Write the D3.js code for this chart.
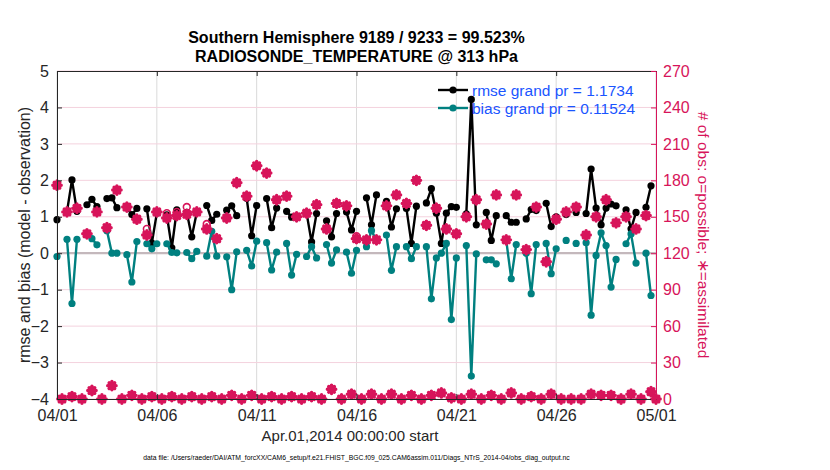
<!DOCTYPE html>
<meta charset="utf-8">
<script src="https://cdn.jsdelivr.net/npm/d3@7"></script>
<style>
body { margin: 0; background: #fff; }
svg { display: block; font-family: "Liberation Sans", Arial, Helvetica, sans-serif; }
</style>
<body>
<div class="chart"></div>
<script>

// 6-hourly bins starting Apr.01,2014 00Z (null = no observations in bin)
var rmse = [0.92, null, 1.14, 2.01, 1.15, null, 1.33, 1.48, 1.28, null,
  1.50, 1.52, 1.25, null, 1.25, 1.06, 1.23, null, 1.22, 0.28,
  1.10, null, 1.05, 0.15, 1.19, null, 1.12, 0.45, 1.12, null,
  1.31, 0.90, 1.07, null, 1.18, 1.30, 1.03, null, 1.51, 0.48,
  1.31, null, 1.50, 0.70, 1.24, null, 1.15, 0.99, 1.00, null,
  1.10, 0.31, 1.09, null, 0.89, 0.45, 1.09, null, 1.13, 0.64,
  1.15, null, 1.52, 0.78, 1.60, null, 1.42, 0.72, 1.22, null,
  1.23, 0.27, 1.29, null, 1.38, 1.77, 1.10, 0.27, 1.10, 1.28,
  1.26, null, 1.08, 4.22, 0.78, null, 1.12, 0.35, 1.03, null,
  1.03, 0.85, 0.85, null, 0.94, 1.20, 1.17, null, 1.37, 0.73,
  1.00, null, 1.06, null, 1.12, null, 1.09, 2.31, 1.24, 0.78,
  1.24, 1.35, 1.30, null, 1.19, 0.67, 1.12, null, 1.26, 1.85,
  null];

var bias = [-0.09, null, 0.38, -1.38, 0.38, null, 0.50, 0.40, 0.23, null,
  0.62, 0.00, 0.00, null, -0.04, -0.79, 0.32, null, 0.26, 0.12,
  0.26, null, 0.26, 0.02, 0.01, null, 0.02, -0.15, 0.05, null,
  -0.08, 0.60, -0.08, null, -0.10, -1.00, 0.04, null, 0.08, -0.35,
  0.33, null, 0.29, -0.46, 0.03, null, 0.27, -0.60, -0.03, null,
  -0.09, 0.18, -0.13, null, 0.24, -0.27, 0.09, null, 0.03, -0.55,
  0.08, null, 0.18, 0.62, 0.35, null, 0.50, -0.47, 0.18, null,
  0.18, -0.15, 0.18, null, 0.18, -1.25, -0.13, 0.00, 0.27, -1.82,
  -0.13, null, 0.21, -3.37, -0.02, null, -0.18, -0.18, -0.29, null,
  0.35, -0.70, 0.24, null, 0.00, -1.11, 0.24, null, 0.27, -0.56,
  0.12, null, 0.35, null, 0.27, null, 0.29, -1.70, -0.06, 0.56,
  0.21, -0.93, -0.17, null, 0.26, 0.53, -0.27, null, 0.00, -1.16,
  null];

var nAssim = [176, 0, 154, 2, 157, 0, 136, 7, 154, 0,
  141, 11, 172, 0, 158, 3, 148, 0, 135, 2,
  154, 0, 149, 2, 151, 0, 152, 2, 154, 0,
  140, 2, 132, 0, 149, 3, 178, 0, 167, 3,
  192, 0, 186, 2, 164, 0, 167, 2, 150, 0,
  153, 2, 160, 0, 140, 8, 161, 0, 159, 4,
  132, 0, 131, 4, 131, 0, 159, 4, 168, 0,
  161, 3, 180, 0, 143, 3, 157, 5, 140, 1,
  136, 0, 150, 4, 164, 0, 144, 3, 168, 0,
  131, 5, 168, 0, 123, 2, 158, 0, 113, 4,
  148, 0, 154, 0, 158, 0, 135, 4, 150, 3,
  164, 3, 145, 0, 150, 4, 140, 0, 151, 6,
  0];

var nPoss = [176, 0, 154, 2, 157, 0, 136, 7, 154, 0,
  141, 11, 172, 0, 158, 3, 148, 0, 140, 2,
  154, 0, 153, 2, 154, 0, 158, 2, 154, 0,
  144, 2, 132, 0, 149, 3, 178, 0, 167, 3,
  192, 0, 186, 2, 164, 0, 167, 2, 150, 0,
  153, 2, 160, 0, 140, 8, 161, 0, 159, 4,
  134, 0, 131, 4, 131, 0, 159, 4, 168, 0,
  161, 3, 180, 0, 143, 3, 157, 5, 140, 1,
  136, 0, 150, 4, 164, 0, 144, 3, 168, 0,
  131, 5, 168, 0, 123, 2, 158, 0, 113, 4,
  148, 0, 154, 0, 158, 0, 135, 4, 150, 3,
  164, 3, 145, 0, 150, 4, 140, 0, 151, 6,
  0];

var leftTicks = [-4, -3, -2, -1, 0, 1, 2, 3, 4, 5];
var rightTicks = [0, 30, 60, 90, 120, 150, 180, 210, 240, 270];
var dateTicks = ["2014-04-01", "2014-04-06", "2014-04-11", "2014-04-16", "2014-04-21", "2014-04-26", "2014-05-01"];

var titleLines = ["Southern Hemisphere 9189 / 9233 = 99.523%", "RADIOSONDE_TEMPERATURE @ 313 hPa"];
var legendLabels = ["rmse grand pr = 1.1734", "bias grand pr = 0.11524"];
var footer = "data file: /Users/raeder/DAI/ATM_forcXX/CAM6_setup/f.e21.FHIST_BGC.f09_025.CAM6assim.011/Diags_NTrS_2014-04/obs_diag_output.nc";

var pink = "#d7145a", teal = "#008080", blue = "#1a55ff";

// plot box
var margin = {top: 71, right: 174, bottom: 71, left: 57},
    width = 830 - margin.left - margin.right,
    height = 470 - margin.top - margin.bottom;

var svg = d3.select(".chart").append("svg")
    .attr("width", 830)
    .attr("height", 470);

var g = svg.append("g")
    .attr("transform", "translate(" + margin.left + "," + margin.top + ")");

// bin times
var t0 = Date.UTC(2014, 3, 1);
var times = rmse.map(function(d, i) { return new Date(t0 + i * 6 * 3600 * 1000); });

var x = d3.scaleUtc()
    .domain([new Date(t0), new Date(Date.UTC(2014, 4, 1))])
    .range([0, width]);

var y = d3.scaleLinear().domain([-4, 5]).range([height, 0]);
var y2 = d3.scaleLinear().domain([0, 270]).range([height, 0]);

var tickDates = dateTicks.map(function(s) { return new Date(s + "T00:00:00Z"); });

// grid lines
g.append("g").selectAll("line")
  .data(tickDates)
  .enter().append("line")
    .attr("x1", function(d) { return x(d); })
    .attr("x2", function(d) { return x(d); })
    .attr("y1", 0).attr("y2", height)
    .attr("stroke", "#dadada").attr("stroke-width", 1);

g.append("g").selectAll("line")
  .data(rightTicks)
  .enter().append("line")
    .attr("x1", 0).attr("x2", width)
    .attr("y1", function(d) { return y2(d); })
    .attr("y2", function(d) { return y2(d); })
    .attr("stroke", "#f4d2de").attr("stroke-width", 1);

// zero line
g.append("line")
    .attr("x1", 0).attr("x2", width)
    .attr("y1", y(0)).attr("y2", y(0))
    .attr("stroke", "#c4b8bc").attr("stroke-width", 2.2);

// rmse and bias lines
function drawSeries(values, color) {
  var pts = values.map(function(v, i) { return {t: times[i], v: v}; });
  var line = d3.line()
      .defined(function(d) { return d.v !== null; })
      .x(function(d) { return x(d.t); })
      .y(function(d) { return y(d.v); });
  g.append("path")
      .datum(pts)
      .attr("fill", "none")
      .attr("stroke", color)
      .attr("stroke-width", 2.4)
      .attr("stroke-linejoin", "round")
      .attr("d", line);
  g.append("g").selectAll("circle")
    .data(pts.filter(function(d) { return d.v !== null; }))
    .enter().append("circle")
      .attr("cx", function(d) { return x(d.t); })
      .attr("cy", function(d) { return y(d.v); })
      .attr("r", 3.6)
      .attr("fill", color);
}
drawSeries(rmse, "#000");
drawSeries(bias, teal);

// obs counts on right axis
g.append("g").selectAll("circle")
  .data(nPoss)
  .enter().append("circle")
    .attr("cx", function(d, i) { return x(times[i]); })
    .attr("cy", function(d) { return y2(d); })
    .attr("r", 3.4)
    .attr("fill", "none")
    .attr("stroke", pink)
    .attr("stroke-width", 1.6);

// thick asterisk marker
var star = "M-4.2,0H4.2M0,-4.2V4.2M-2.8,-2.8L2.8,2.8M-2.8,2.8L2.8,-2.8";
g.append("g").selectAll("path")
  .data(nAssim)
  .enter().append("path")
    .attr("transform", function(d, i) { return "translate(" + x(times[i]) + "," + y2(d) + ")"; })
    .attr("d", star)
    .attr("stroke", pink)
    .attr("stroke-width", 3.4)
    .attr("stroke-linecap", "round");

// axes
var xAxis = g.append("g")
    .attr("transform", "translate(0," + height + ")")
    .call(d3.axisBottom(x).tickValues(tickDates).tickFormat(d3.utcFormat("%m/%d")).tickSizeInner(-5).tickSizeOuter(0).tickPadding(11));
xAxis.select(".domain").attr("stroke", "#262626");
xAxis.selectAll("line").attr("stroke", "#262626");
xAxis.selectAll("text").attr("font-size", 16).attr("fill", "#262626");

var xTop = g.append("g")
    .call(d3.axisTop(x).tickValues(tickDates).tickFormat("").tickSizeInner(-5).tickSizeOuter(0));
xTop.select(".domain").attr("stroke", "#262626");
xTop.selectAll("line").attr("stroke", "#262626");

var yAxis = g.append("g")
    .call(d3.axisLeft(y).tickValues(leftTicks).tickSizeInner(-5).tickSizeOuter(0).tickPadding(8));
yAxis.select(".domain").attr("stroke", "#262626");
yAxis.selectAll("line").attr("stroke", "#262626");
yAxis.selectAll("text").attr("font-size", 16).attr("fill", "#262626");

var y2Axis = g.append("g")
    .attr("transform", "translate(" + width + ",0)")
    .call(d3.axisRight(y2).tickValues(rightTicks).tickSizeInner(-5).tickSizeOuter(0).tickPadding(7));
y2Axis.select(".domain").attr("stroke", pink);
y2Axis.selectAll("line").attr("stroke", pink);
y2Axis.selectAll("text").attr("font-size", 16).attr("fill", pink);

// titles
svg.selectAll(".title")
  .data(titleLines)
  .enter().append("text")
    .attr("class", "title")
    .attr("x", margin.left + width / 2)
    .attr("y", function(d, i) { return 43 + i * 19; })
    .attr("text-anchor", "middle")
    .attr("font-size", 16)
    .attr("font-weight", "bold")
    .text(function(d) { return d; });

svg.append("text")
    .attr("transform", "translate(30," + (margin.top + height / 2) + ") rotate(-90)")
    .attr("text-anchor", "middle")
    .attr("font-size", 16)
    .attr("fill", "#262626")
    .text("rmse and bias (model - observation)");

svg.append("text")
    .attr("transform", "translate(698," + (margin.top + height / 2) + ") rotate(90)")
    .attr("text-anchor", "middle")
    .attr("font-size", 15.5)
    .attr("fill", pink)
    .text("# of obs: o=possible; \u2217=assimilated");

svg.append("text")
    .attr("x", 350)
    .attr("y", 441)
    .attr("text-anchor", "middle")
    .attr("font-size", 15)
    .attr("fill", "#262626")
    .text("Apr.01,2014 00:00:00 start");

svg.append("text")
    .attr("x", margin.left + width / 2)
    .attr("y", 460)
    .attr("text-anchor", "middle")
    .attr("font-size", 6.8)
    .attr("fill", "#000")
    .text(footer);

// legend
var legend = svg.selectAll(".legend")
  .data([{c: "#000", l: legendLabels[0]}, {c: teal, l: legendLabels[1]}])
  .enter().append("g")
    .attr("class", "legend")
    .attr("transform", function(d, i) { return "translate(438," + (90 + i * 18) + ")"; });

legend.append("line")
    .attr("x1", 0).attr("x2", 30)
    .attr("stroke", function(d) { return d.c; })
    .attr("stroke-width", 2.4);
legend.append("circle")
    .attr("cx", 15).attr("r", 3.6)
    .attr("fill", function(d) { return d.c; });
legend.append("text")
    .attr("x", 34).attr("y", 6)
    .attr("font-size", 15.5)
    .attr("fill", blue)
    .text(function(d) { return d.l; });

</script>
</body>
